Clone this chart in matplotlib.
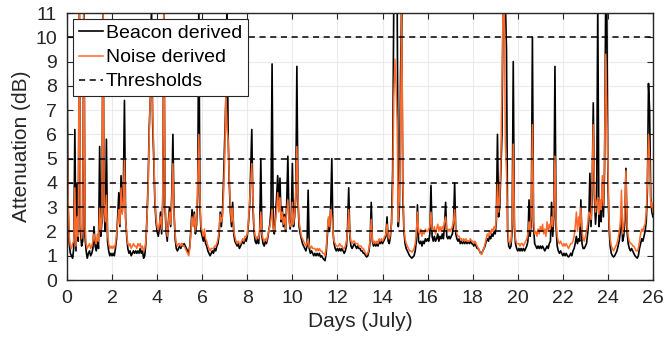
import numpy as np
import matplotlib.pyplot as plt

plt.rcParams['font.family'] = ['Liberation Sans', 'DejaVu Sans']

# sampling every 0.05 day, one row per day
days = np.arange(0, 26.0001, 0.05)

beacon = [
    9.8, 3.0, 1.5, 1.1, 1.0, 0.9, 1.3, 6.2, 1.2, 4.0, 1.6, 11.5, 2.0, 1.4, 1.6, 12.0, 1.8, 1.2, 0.9, 1.1,
    1.2, 1.0, 1.1, 1.3, 2.2, 1.4, 1.2, 1.6, 1.3, 5.5, 1.8, 2.4, 11.5, 2.8, 2.0, 5.8, 1.6, 1.2, 1.0, 1.1,
    1.0, 1.1, 1.0, 1.3, 1.7, 2.6, 3.6, 2.2, 4.3, 2.8, 3.5, 7.4, 2.6, 1.8, 1.3, 1.1, 1.2, 1.0, 1.1, 1.2,
    1.1, 1.2, 1.1, 1.2, 1.1, 1.3, 1.1, 1.2, 0.9, 1.0, 1.5, 2.6, 4.0, 6.3, 7.5, 11.5, 6.5, 5.0, 3.2, 2.4,
    2.0, 1.8, 2.1, 2.8, 1.9, 3.2, 11.5, 3.0, 2.0, 1.6, 2.4, 3.0, 2.2, 3.5, 6.0, 2.8, 1.7, 1.3, 1.2, 1.3,
    1.4, 1.3, 1.5, 1.4, 1.5, 1.4, 1.3, 1.2, 1.1, 1.4, 2.1, 2.9, 2.3, 2.8, 1.9, 2.3, 3.5, 11.5, 3.0, 2.0,
    1.8, 1.6, 1.9, 1.5, 1.4, 1.2, 1.1, 1.0, 1.1, 1.2, 1.1, 1.3, 1.2, 1.4, 1.5, 1.9, 2.8, 2.2, 2.8, 4.2,
    5.8, 7.5, 11.5, 6.0, 4.0, 2.8, 2.2, 3.2, 1.9, 1.6, 1.5, 1.4, 1.5, 1.3, 1.4, 1.5, 1.6, 1.5, 1.7, 1.6,
    1.8, 2.3, 3.0, 4.5, 6.2, 3.0, 2.0, 1.6, 1.5, 1.7, 1.5, 2.0, 5.0, 1.8, 1.5, 1.4, 1.6, 1.5, 1.7, 2.0,
    2.3, 2.9, 8.9, 2.2, 1.9, 2.6, 3.4, 4.3, 3.0, 4.2, 2.4, 3.0, 2.2, 2.7, 2.0, 3.2, 5.1, 2.6, 2.1, 2.4,
    4.8, 2.2, 2.6, 3.4, 8.8, 3.2, 2.2, 1.9, 1.7, 1.5, 1.4, 1.3, 1.2, 1.4, 3.7, 1.3, 1.1, 1.2, 1.1, 1.0,
    1.1, 1.0, 1.1, 1.0, 1.1, 0.95, 1.0, 0.9, 0.85, 0.8, 1.1, 1.8, 2.5, 2.0, 3.0, 5.0, 2.0, 1.5, 1.3, 1.2,
    1.3, 1.2, 1.3, 1.2, 1.3, 1.2, 1.1, 1.2, 1.4, 2.2, 3.8, 1.8, 1.4, 1.3, 1.4, 1.5, 1.4, 1.3, 1.4, 1.3,
    1.3, 1.2, 1.2, 1.1, 1.1, 1.0, 0.95, 1.0, 1.2, 1.6, 3.2, 1.6, 1.4, 1.5, 1.4, 1.5, 1.4, 1.6, 1.5, 1.6,
    1.5, 1.6, 1.7, 1.8, 2.6, 1.6, 1.5, 1.8, 2.4, 4.5, 11.5, 11.5, 11.5, 11.5, 2.2, 3.0, 8.5, 11.5, 3.5, 2.0,
    1.5, 1.3, 1.2, 1.1, 1.0, 0.95, 0.9, 0.95, 1.0, 1.2, 1.6, 3.1, 1.6, 1.5, 1.6, 1.4, 1.6, 1.5, 1.7, 1.6,
    1.7, 1.6, 1.9, 3.9, 1.8, 1.6, 1.8, 1.6, 1.7, 1.9, 1.6, 1.8, 1.7, 1.9, 1.7, 2.2, 3.2, 1.8, 1.7, 1.8,
    1.7, 1.8, 1.9, 2.3, 4.0, 1.9, 1.7, 1.6, 1.7, 1.5, 1.6, 1.5, 1.6, 1.5, 1.6, 1.5, 1.6, 1.5, 1.6, 1.5,
    1.5, 1.4, 1.5, 1.4, 1.3, 1.3, 1.2, 1.1, 1.1, 1.2, 1.3, 1.4, 1.6, 1.7, 1.6, 1.8, 1.7, 1.9, 1.8, 2.0,
    1.9, 2.4, 6.0, 2.6, 3.0, 4.5, 6.0, 11.5, 11.5, 11.5, 9.5, 2.0, 1.4, 1.3, 1.4, 2.0, 9.0, 2.2, 1.5, 1.3,
    1.2, 1.3, 1.2, 1.3, 1.2, 1.3, 1.2, 1.3, 1.4, 1.6, 3.3, 1.8, 2.4, 10.0, 2.2, 1.5, 1.4, 1.3, 1.4, 1.3,
    1.4, 1.3, 1.4, 1.3, 1.2, 1.3, 1.4, 1.3, 1.5, 1.6, 3.2, 1.8, 2.6, 8.8, 2.2, 1.4, 1.2, 1.1, 1.2, 1.1,
    1.0, 1.1, 1.0, 1.1, 1.0, 0.95, 1.0, 1.1, 1.0, 1.2, 1.3, 1.5, 1.8, 1.5, 1.7, 1.6, 3.3, 1.5, 1.3, 1.3,
    1.4, 1.5, 1.9, 2.4, 4.4, 2.2, 3.5, 7.3, 3.5, 2.3, 3.0, 11.5, 2.2, 3.0, 2.4, 4.0, 2.6, 4.5, 11.5, 11.5,
    4.0, 2.2, 1.4, 1.1, 1.0, 0.95, 1.0, 1.1, 1.2, 1.4, 1.6, 2.0, 3.0, 1.6, 1.8, 2.4, 4.6, 2.0, 1.5, 1.3,
    1.2, 1.3, 1.2, 1.1, 1.0, 0.95, 0.9, 1.0, 1.3, 1.5, 1.7, 1.6, 1.8, 2.0, 2.4, 3.6, 8.1, 7.0, 3.4, 2.8,
    2.6,
]

noise = [
    7.0, 3.5, 1.8, 1.4, 1.3, 1.5, 1.6, 3.8, 1.4, 2.6, 1.8, 11.5, 2.4, 1.7, 2.2, 11.2, 2.3, 1.5, 1.3, 1.4,
    1.5, 1.3, 1.4, 1.6, 1.9, 1.6, 1.5, 1.9, 1.6, 3.0, 2.0, 2.6, 11.5, 3.2, 2.4, 3.5, 1.9, 1.5, 1.3, 1.4,
    1.3, 1.4, 1.3, 1.5, 1.9, 2.4, 2.9, 2.3, 3.8, 2.7, 3.2, 5.0, 2.5, 1.9, 1.5, 1.4, 1.5, 1.3, 1.4, 1.5,
    1.4, 1.4, 1.3, 1.5, 1.4, 1.5, 1.3, 1.4, 1.2, 1.3, 1.6, 2.5, 3.8, 6.0, 7.6, 8.2, 7.0, 5.4, 3.4, 2.6,
    2.2, 2.0, 2.3, 2.6, 2.1, 3.5, 11.5, 3.3, 2.2, 1.8, 2.3, 2.8, 2.3, 3.2, 4.8, 2.7, 1.9, 1.5, 1.4, 1.5,
    1.5, 1.4, 1.5, 1.4, 1.4, 1.3, 1.2, 1.1, 1.0, 1.3, 2.0, 2.6, 2.2, 2.7, 2.0, 2.5, 4.0, 6.0, 3.3, 2.2,
    2.0, 1.8, 2.1, 1.7, 1.6, 1.4, 1.3, 1.2, 1.3, 1.3, 1.3, 1.4, 1.4, 1.5, 1.7, 2.0, 2.7, 2.4, 2.6, 3.6,
    5.0, 7.6, 6.2, 5.8, 4.2, 3.0, 2.4, 3.0, 2.0, 1.8, 1.6, 1.5, 1.6, 1.5, 1.5, 1.6, 1.7, 1.6, 1.8, 1.8,
    1.9, 2.4, 3.2, 4.0, 4.8, 3.3, 2.2, 1.8, 1.7, 1.8, 1.7, 2.0, 2.8, 1.9, 1.7, 1.6, 1.7, 1.6, 1.8, 2.0,
    2.2, 2.5, 2.9, 2.1, 2.0, 2.4, 2.9, 3.6, 2.8, 3.4, 2.5, 2.8, 2.3, 2.6, 2.1, 2.9, 3.3, 2.5, 2.2, 2.3,
    3.2, 2.3, 2.7, 3.6, 5.5, 3.4, 2.4, 2.1, 1.8, 1.7, 1.6, 1.5, 1.4, 1.5, 1.7, 1.4, 1.3, 1.4, 1.3, 1.3,
    1.3, 1.2, 1.3, 1.2, 1.3, 1.2, 1.2, 1.1, 1.1, 1.0, 1.3, 2.0, 2.6, 2.2, 2.9, 2.6, 2.0, 1.6, 1.5, 1.4,
    1.4, 1.4, 1.5, 1.4, 1.4, 1.3, 1.3, 1.4, 1.6, 2.0, 2.9, 1.9, 1.6, 1.5, 1.6, 1.6, 1.5, 1.5, 1.5, 1.4,
    1.4, 1.4, 1.3, 1.3, 1.2, 1.1, 1.05, 1.1, 1.3, 1.7, 2.5, 1.7, 1.5, 1.6, 1.5, 1.6, 1.5, 1.7, 1.6, 1.7,
    1.6, 1.7, 1.8, 1.9, 2.3, 1.8, 1.7, 1.9, 2.3, 3.5, 7.5, 9.1, 8.0, 6.5, 2.4, 3.5, 6.0, 11.5, 4.0, 2.2,
    1.7, 1.5, 1.4, 1.3, 1.2, 1.2, 1.15, 1.2, 1.3, 1.5, 1.9, 2.8, 2.0, 1.9, 2.1, 1.8, 2.0, 1.9, 2.1, 2.0,
    2.0, 2.1, 2.2, 2.8, 2.1, 2.0, 2.2, 1.9, 2.1, 2.3, 2.0, 2.2, 2.0, 2.2, 2.1, 2.4, 2.6, 2.1, 2.0, 2.1,
    2.0, 2.1, 2.2, 2.4, 2.9, 2.1, 1.9, 1.8, 1.8, 1.7, 1.7, 1.6, 1.7, 1.6, 1.7, 1.6, 1.6, 1.6, 1.7, 1.6,
    1.6, 1.5, 1.6, 1.5, 1.4, 1.3, 1.2, 1.1, 1.05, 1.2, 1.3, 1.5, 1.7, 1.9, 1.8, 2.0, 1.9, 2.1, 2.0, 2.2,
    2.1, 2.5, 4.0, 2.8, 3.4, 5.0, 8.0, 11.5, 11.5, 5.6, 4.5, 2.2, 1.6, 1.5, 1.6, 2.3, 5.6, 2.4, 1.7, 1.5,
    1.5, 1.5, 1.4, 1.5, 1.5, 1.4, 1.5, 1.6, 1.7, 1.9, 2.4, 2.0, 2.7, 6.4, 2.6, 1.9, 2.0, 1.8, 2.1, 1.9,
    2.2, 2.0, 2.3, 1.9, 2.1, 1.8, 2.4, 2.0, 2.3, 2.1, 2.6, 2.2, 3.0, 5.1, 2.5, 1.8, 1.6, 1.5, 1.6, 1.5,
    1.4, 1.5, 1.4, 1.5, 1.4, 1.3, 1.4, 1.5, 1.5, 1.6, 1.8, 2.2, 2.8, 2.0, 2.6, 2.2, 3.0, 2.0, 1.7, 1.6,
    1.8, 2.0, 2.3, 2.8, 2.7, 2.5, 3.8, 6.4, 3.9, 2.8, 3.2, 3.4, 2.7, 3.3, 2.9, 4.3, 3.0, 5.0, 9.3, 7.0,
    4.5, 2.5, 1.7, 1.4, 1.3, 1.2, 1.3, 1.4, 1.5, 1.7, 2.0, 2.3, 3.7, 1.9, 2.2, 2.8, 4.5, 2.3, 1.8, 1.6,
    1.5, 1.5, 1.4, 1.4, 1.3, 1.2, 1.2, 1.3, 1.6, 1.9, 2.1, 2.0, 2.2, 2.3, 2.8, 4.0, 6.0, 5.0, 3.0, 3.2,
    2.8,
]

thresholds = [2, 3, 4, 5, 10]
xticks = list(range(0, 27, 2))
yticks = list(range(0, 12))

txt = '#262626'
orange = '#ff6a2a'

fig = plt.figure(figsize=(6.67, 3.47), dpi=100)
ax = fig.add_axes([0.1004, 0.193, 0.8786, 0.7695])

ax.plot(days, beacon, color='k', linewidth=1.2, label='Beacon derived')
ax.plot(days, noise, color=orange, linewidth=1.1, label='Noise derived')
for i, th in enumerate(thresholds):
    ax.axhline(th, color='k', linestyle=(0, (4, 3)), linewidth=1.1,
               label='Thresholds' if i == 0 else None)

ax.set_xlim(0, 26)
ax.set_ylim(0, 11)
ax.set_xticks(xticks)
ax.set_yticks(yticks)
ax.grid(True, color='#ebebeb', linewidth=0.8)
ax.set_axisbelow(True)
ax.tick_params(direction='in', top=True, right=True, length=4, width=0.8,
               labelsize=14, colors=txt, pad=7)
for s in ax.spines.values():
    s.set_color(txt)
    s.set_linewidth(1.0)

ax.set_xlabel('Days (July)', fontsize=15, color=txt, labelpad=4)
ax.set_ylabel('Attenuation (dB)', fontsize=15, color=txt, labelpad=3)

leg = ax.legend(loc='upper left', bbox_to_anchor=(0.0, 1.0), fontsize=14,
                frameon=True, fancybox=False, framealpha=1, edgecolor=txt,
                handlelength=1.25, handletextpad=0.15, labelspacing=0.33,
                borderpad=0.3, borderaxespad=0.3)
leg.get_frame().set_linewidth(0.8)
for t in leg.get_texts():
    t.set_color('k')

fig.savefig('out.png', dpi=100)
